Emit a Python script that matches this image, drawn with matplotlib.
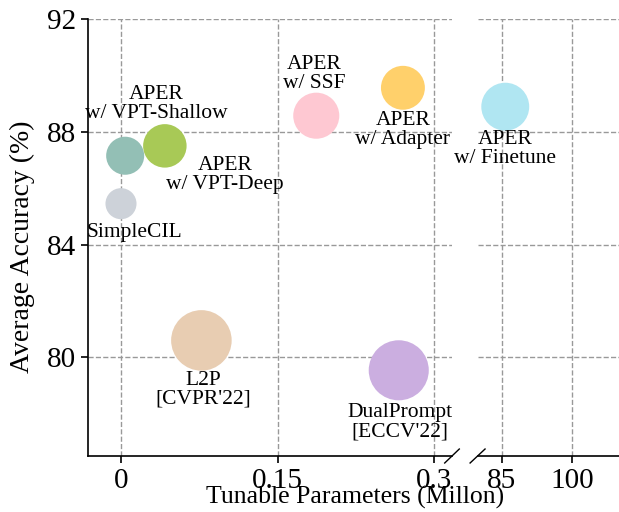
import matplotlib
matplotlib.use("Agg")
import matplotlib.pyplot as plt

plt.rcParams['font.family'] = ['Liberation Serif', 'DejaVu Serif']

# methods, tunable params (M), accuracy (%), bubble size, colour
names = ["SimpleCIL", "APER\nw/ VPT-Shallow", "APER\nw/ VPT-Deep", "L2P\n[CVPR'22]",
         "APER\nw/ SSF", "APER\nw/ Adapter", "DualPrompt\n[ECCV'22]", "APER\nw/ Finetune"]
params = [0.0, 0.004, 0.042, 0.077, 0.187, 0.270, 0.266, 85.8]
acc = [85.45, 87.15, 87.5, 80.6, 88.57, 89.56, 79.54, 88.89]
sizes = [500, 750, 980, 1900, 1100, 1000, 1870, 1190]
colors = ["#CDD2D9", "#93BFB5", "#A8C956", "#E8CDB2", "#FEC8D2", "#FFD06B", "#CBAEE0", "#B0E6F2"]
# label centres (x, y) in data units
label_pos = [(0.0134, 84.41), (0.0336, 89.0), (0.0997, 86.45), (0.0786, 78.85),
             (0.185, 90.05), (0.270, 88.05), (0.2675, 77.7), (85.85, 87.4)]

xticks_l = [0, 0.15, 0.3]
xticklabels_l = ["0", "0.15", "0.3"]
xticks_r = [85, 100]
yticks = [80, 84, 88, 92]

fig = plt.figure(figsize=(6.19, 5.12), dpi=100)
ax1 = fig.add_axes([88/619, 56/512, 364/619, 437/512])
ax2 = fig.add_axes([478/619, 56/512, 141/619, 437/512])

for ax in (ax1, ax2):
    ax.set_ylim(76.5, 92)
    ax.set_yticks(yticks)
    ax.grid(True, linestyle='--', color='#999999', linewidth=1.0)
    ax.set_axisbelow(True)
    ax.spines['top'].set_visible(False)
    ax.spines['right'].set_visible(False)
    ax.spines['bottom'].set_linewidth(1.2)
    ax.tick_params(labelsize=21, width=1.2, length=5)

ax1.set_xlim(-0.0316, 0.317)
ax1.set_xticks(xticks_l)
ax1.set_xticklabels(xticklabels_l)
ax1.spines['left'].set_linewidth(1.2)
ax2.set_xlim(80, 110)
ax2.set_xticks(xticks_r)
ax2.spines['left'].set_visible(False)
ax2.tick_params(axis='y', left=False, labelleft=False)

for i in range(len(names)):
    ax = ax2 if params[i] > 1 else ax1
    ax.scatter(params[i], acc[i], s=sizes[i], color=colors[i], edgecolors='none', zorder=3)
    ax.text(label_pos[i][0], label_pos[i][1], names[i], ha='center', va='center',
            fontsize=15.5, linespacing=1.0, zorder=4)

fig.text(22/619, 1 - 247/512, "Average Accuracy (%)", rotation=90, ha='center', va='center', fontsize=20)
fig.text(355/619, 1 - 497/512, "Tunable Parameters (Millon)", ha='center', va='center', fontsize=18.5)

# break marks
h = 0.016
kw = dict(color='k', clip_on=False, linewidth=1.0)
ax1.plot([0.98, 1.02], [-h, h], transform=ax1.transAxes, **kw)
ax2.plot([-0.056, 0.05], [-h, h], transform=ax2.transAxes, **kw)

fig.savefig("out.png", dpi=100)
